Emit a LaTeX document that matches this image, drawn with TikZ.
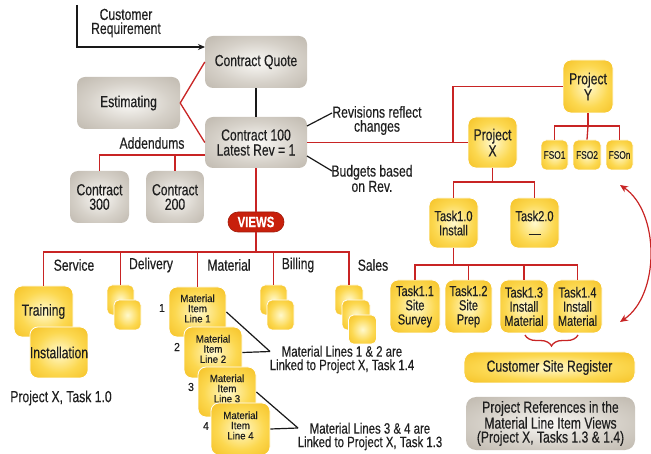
\documentclass[tikz,border=0pt]{standalone}
\usepackage{fontspec}
\setmainfont{Liberation Sans}[FakeStretch=0.76, FakeBold=0.35]
\newfontfamily\matfont{Liberation Sans}[FakeStretch=0.92, FakeBold=0.35]
\usetikzlibrary{decorations.pathreplacing,arrows.meta,calc}
\definecolor{gEdge}{RGB}{174,166,154}
\definecolor{gMid}{RGB}{214,209,201}
\definecolor{gCtr}{RGB}{250,249,246}
\definecolor{yEdge}{RGB}{240,178,8}
\definecolor{yMid}{RGB}{252,216,80}
\definecolor{yCtr}{RGB}{255,249,205}
\definecolor{lred}{RGB}{200,36,36}
\definecolor{vred}{RGB}{200,32,12}
\pgfdeclareradialshading{grayshade}{\pgfpoint{0bp}{0bp}}{color(0bp)=(gCtr); color(20bp)=(gMid); color(48bp)=(gEdge); color(72bp)=(gEdge)}
\pgfdeclareradialshading{yelshade}{\pgfpoint{0bp}{0bp}}{color(0bp)=(yCtr); color(20bp)=(yMid); color(46bp)=(yEdge); color(72bp)=(yEdge)}
\tikzset{
  base/.style={rectangle, rounded corners=8pt, align=center, inner sep=0pt, text=black!88,
    font=\fontsize{16}{15}\selectfont},
  graybox/.style={base, shading=grayshade},
  yelbox/.style={base, shading=yelshade, draw=white, line width=0.8pt},
  smallbox/.style={yelbox, rounded corners=5pt, font=\fontsize{11}{11}\selectfont},
  matbox/.style={yelbox, font=\matfont\fontsize{10.5}{10.2}\selectfont},
  taskbox/.style={yelbox, font=\fontsize{14.5}{14.2}\selectfont},
  viewsbox/.style={rectangle, rounded corners=10pt, fill=vred, draw=vred!80!black, line width=0.6pt,
    text=white, inner sep=0pt, font=\fontsize{15}{15}\selectfont\bfseries},
  lbl/.style={align=center, inner sep=0pt, text=black!88, font=\fontsize{16}{14}\selectfont},
  numlbl/.style={inner sep=0pt, text=black!88, font=\matfont\fontsize{11.5}{11.5}\selectfont},
  redl/.style={draw=lred, line width=1.3pt},
  blkl/.style={draw=black!90, line width=1.2pt},
}
\begin{document}
\begin{tikzpicture}[x=1pt,y=-1pt]
\useasboundingbox (0,0) rectangle (651,454);

% ---------- gray contract boxes ----------
\node[graybox, minimum width=102pt, minimum height=52pt] (cq) at (256,62) {Contract Quote};
\node[graybox, minimum width=103pt, minimum height=52pt] (est) at (128.5,103) {Estimating};
\node[graybox, minimum width=102pt, minimum height=51pt] (c100) at (256,142.5) {Contract 100\\Latest Rev = 1};
\node[graybox, minimum width=59pt, minimum height=52pt, font=\fontsize{16}{14.5}\selectfont] (c300) at (99.5,197) {Contract\\300};
\node[graybox, minimum width=58pt, minimum height=52pt, font=\fontsize{16}{14.5}\selectfont] (c200) at (175,197) {Contract\\200};
\node[viewsbox, minimum width=56pt, minimum height=20pt] (views) at (256,222) {VIEWS};

% ---------- customer requirement ----------
\node[lbl] (custreq) at (126,23) {Customer\\Requirement};
\coordinate (custstart) at (77,5);
\coordinate (custin) at (205,47);
\draw[blkl, -{Stealth[length=7pt,width=6pt]}] (custstart) |- (custin);

\draw[blkl] (cq.south) -- (c100.north);
\draw[redl] (est.east) -- (cq.west);
\draw[redl] (est.east) -- (c100.west);

% addendums
\node[lbl] (addlbl) at (152,143) {Addendums};
\coordinate (addbus) at (205,155);
\draw[redl] (addbus) -| (c300.north);
\draw[redl] (addbus -| c200.north) -- (c200.north);

% revisions / budgets
\coordinate (revfrom) at (307,126);
\coordinate (revto) at (332,113);
\coordinate (budfrom) at (307,156);
\coordinate (budto) at (332,171);
\draw[blkl] (revfrom) -- (revto);
\draw[blkl] (budfrom) -- (budto);
\node[lbl, font=\fontsize{16}{14}\selectfont] (revlbl) at (377,120.5) {Revisions reflect\\changes};
\node[lbl, font=\fontsize{16}{14}\selectfont] (budlbl) at (372,178.5) {Budgets based\\on Rev.};

% ---------- views ----------
\draw[redl] (c100.south) -- (views.north);
\coordinate (vbus) at (256,252);

\node[yelbox, minimum width=59pt, minimum height=51pt] (training) at (43.5,311.5) {Training};
\node[yelbox, minimum width=58pt, minimum height=51pt] (install) at (59,352.5) {Installation};
\node[smallbox, minimum width=27pt, minimum height=30pt] (deliv1) at (120.5,300) {};
\node[smallbox, minimum width=27pt, minimum height=30pt] (deliv2) at (127.5,315) {};
\node[smallbox, minimum width=27pt, minimum height=30pt] (bill1) at (273.5,300) {};
\node[smallbox, minimum width=27pt, minimum height=30pt] (bill2) at (280.5,315) {};
\node[smallbox, minimum width=28pt, minimum height=30pt] (sales1) at (349,300) {};
\node[smallbox, minimum width=28pt, minimum height=30pt] (sales2) at (356,315) {};
\node[smallbox, minimum width=28pt, minimum height=29pt] (sales3) at (362.5,329.5) {};

\node[matbox, minimum width=57pt, minimum height=50pt] (mat1) at (197.5,312) {Material\\Item\\Line 1\\[-3pt]\mbox{}};
\node[matbox, minimum width=58pt, minimum height=51pt] (mat2) at (213,352.5) {Material\\Item\\Line 2\\[-3pt]\mbox{}};
\node[matbox, minimum width=58pt, minimum height=50pt] (mat3) at (227,392) {Material\\Item\\Line 3\\[-3pt]\mbox{}};
\node[matbox, minimum width=59pt, minimum height=52pt] (mat4) at (240.5,429) {Material\\Item\\Line 4\\[-3pt]\mbox{}};
\node[numlbl] (n1) at (162,308) {1};
\node[numlbl] (n2) at (177,347) {2};
\node[numlbl] (n3) at (191,387) {3};
\node[numlbl] (n4) at (206,426) {4};

\draw[redl] (views.south) -- (vbus);
\draw[redl] (vbus) -| (training.north);
\draw[redl] (vbus) -| (sales1.north);
\draw[redl] (vbus -| deliv1.north) -- (deliv1.north);
\draw[redl] (vbus -| mat1.north) -- (mat1.north);
\draw[redl] (vbus -| bill1.north) -- (bill1.north);

\node[lbl] (svc) at (74,265) {Service};
\node[lbl] (dlv) at (151,265) {Delivery};
\node[lbl] (mtl) at (229,265) {Material};
\node[lbl] (bil) at (298,265) {Billing};
\node[lbl] (sls) at (373,265) {Sales};
\node[lbl] (pxt) at (61,398) {Project X, Task 1.0};

% material links
\coordinate (j12) at (270,351.5);
\coordinate (j34) at (298,428);
\draw[blkl] (mat1.east) -- (j12);
\draw[blkl] (mat2.east) -- (j12);
\draw[blkl] (mat3.east) -- (j34);
\draw[blkl] (mat4.east) -- (j34);
\node[lbl, font=\fontsize{15}{13.5}\selectfont] (l12) at (342,359.5) {Material Lines 1 \& 2 are\\Linked to Project X, Task 1.4};
\node[lbl, font=\fontsize{15}{13.5}\selectfont] (l34) at (370,436.5) {Material Lines 3 \& 4 are\\Linked to Project X, Task 1.3};

% ---------- projects ----------
\node[yelbox, minimum width=49pt, minimum height=51pt, font=\fontsize{16}{16}\selectfont] (projX) at (492.5,142.5) {Project\\X};
\node[yelbox, minimum width=50pt, minimum height=53pt, font=\fontsize{16}{16}\selectfont] (projY) at (588,86.5) {Project\\Y};
\node[smallbox, minimum width=27pt, minimum height=30pt] (fso1) at (554.5,155) {FSO1};
\node[smallbox, minimum width=28pt, minimum height=30pt] (fso2) at (587,155) {FSO2};
\node[smallbox, minimum width=27pt, minimum height=30pt] (fson) at (619.5,155) {FSOn};

\node[taskbox, minimum width=49pt, minimum height=50pt] (task10) at (453.5,223) {Task1.0\\Install};
\node[taskbox, minimum width=49pt, minimum height=50pt] (task20) at (534.5,223) {Task2.0\\\rule{12pt}{1.3pt}};
\node[taskbox, minimum width=50pt, minimum height=53pt] (task11) at (415,306.5) {Task1.1\\Site\\Survey};
\node[taskbox, minimum width=47pt, minimum height=53pt] (task12) at (468.5,306.5) {Task1.2\\Site\\Prep};
\node[taskbox, minimum width=48pt, minimum height=53pt] (task13) at (524,306.5) {Task1.3\\Install\\Material};
\node[taskbox, minimum width=49pt, minimum height=53pt] (task14) at (577.5,306.5) {Task1.4\\Install\\Material};

\node[yelbox, rounded corners=10pt, minimum width=171pt, minimum height=31pt] (csr) at (549.5,367.5) {Customer Site Register};
\node[graybox, rounded corners=10pt, minimum width=169pt, minimum height=53pt, font=\fontsize{16}{14}\selectfont] (pref) at (550.5,423.5) {Project References in the\\Material Line Item Views\\(Project X, Tasks 1.3 \& 1.4)};

\draw[redl] (c100.east) -- (projX.west);
\coordinate (pybus) at (453,142.5);
\draw[redl] (pybus) |- (projY.west);
\coordinate (ybus) at (588,126);
\draw[redl] (projY.south) -- (ybus);
\draw[redl] (ybus) -| (fso1.north);
\draw[redl] (ybus) -| (fson.north);
\draw[redl] (ybus) -- (fso2.north);
\coordinate (xbus) at (492.5,182);
\draw[redl] (projX.south) -- (xbus);
\draw[redl] (xbus) -| (task10.north);
\draw[redl] (xbus) -| (task20.north);
\coordinate (tbus) at (453.5,265);
\draw[redl] (task10.south) -- (tbus);
\draw[redl] (tbus) -| (task11.north);
\draw[redl] (tbus) -| (task14.north);
\draw[redl] (tbus -| task12.north) -- (task12.north);
\draw[redl] (tbus -| task13.north) -- (task13.north);

% brace
\coordinate (brL) at (525,335);
\coordinate (brR) at (578,335);
\draw[redl, decorate, decoration={brace, mirror, amplitude=11pt}] (brL) -- (brR);

% curved arrow
\coordinate (arrA) at (620,185);
\coordinate (arrB) at (620,322);
\draw[redl, line width=1.2pt, {Stealth[length=8pt,width=7pt]}-{Stealth[length=8pt,width=7pt]}] (arrA) .. controls (660,212) and (660,295) .. (arrB);
\end{tikzpicture}
\end{document}
